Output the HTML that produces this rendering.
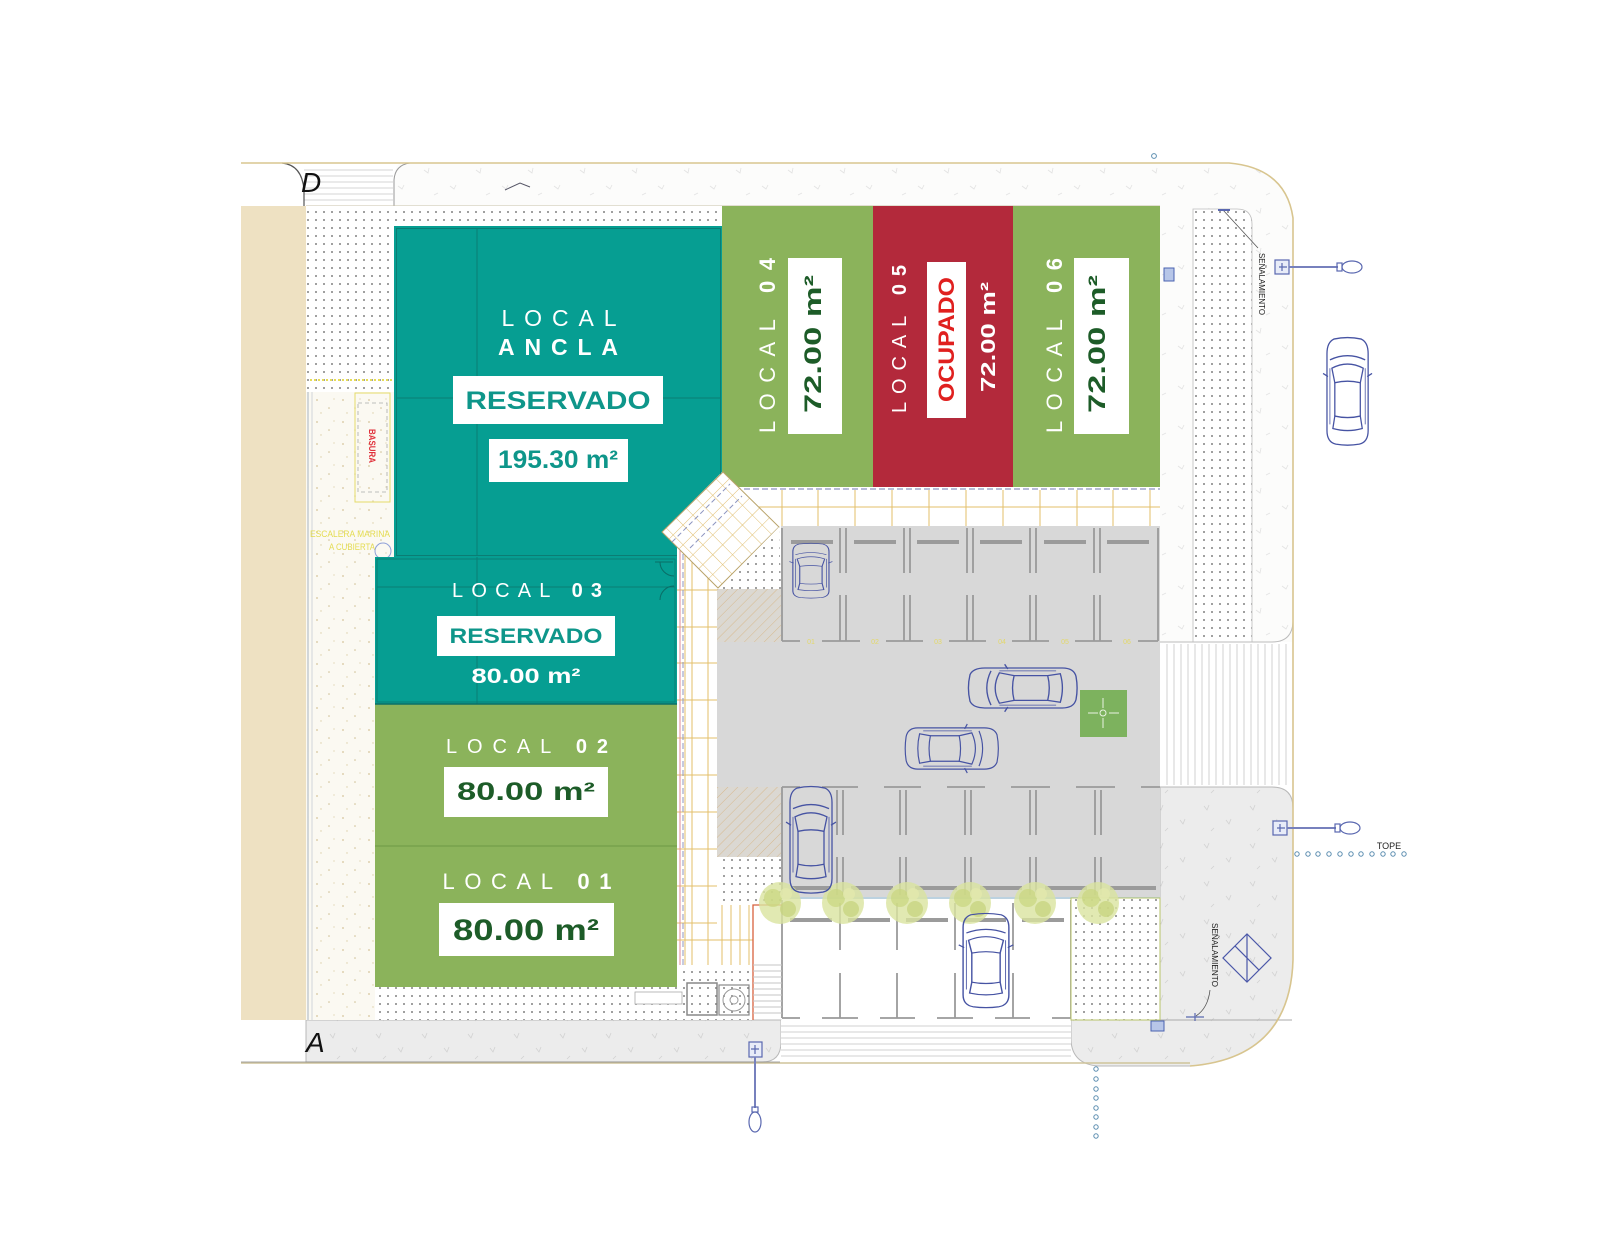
<!DOCTYPE html>
<html><head><meta charset="utf-8">
<style>html,body{margin:0;padding:0;background:#fff}svg{display:block}text{font-family:"Liberation Sans",Arial,sans-serif}</style>
</head>
<body>
<svg xmlns="http://www.w3.org/2000/svg" xmlns:xlink="http://www.w3.org/1999/xlink" width="1600" height="1250" viewBox="0 0 1600 1250">
<defs>
 <pattern id="dots" width="8" height="8" patternUnits="userSpaceOnUse"><rect width="8" height="8" fill="#fff"/><circle cx="4" cy="4" r="0.95" fill="#7a7a7a"/></pattern>
 <pattern id="speck" width="26" height="22" patternUnits="userSpaceOnUse"><rect width="26" height="22" fill="#fbf9f2"/><circle cx="5" cy="4" r="0.9" fill="#d6c59a"/><circle cx="17" cy="12" r="0.8" fill="#cfc096"/><circle cx="9" cy="17" r="0.7" fill="#dccfa8"/><circle cx="22" cy="3" r="0.6" fill="#d8c9a0"/></pattern>
 <pattern id="gspeck" width="46" height="38" patternUnits="userSpaceOnUse"><rect width="46" height="38" fill="#ececec"/><path d="M8 8l3 4 2-5M30 22l3 4 2-5M18 30l-3 3" stroke="#d2d2d2" stroke-width="0.8" fill="none"/></pattern>
 <pattern id="wspeck" width="52" height="40" patternUnits="userSpaceOnUse"><rect width="52" height="40" fill="#fcfcfb"/><path d="M8 10l4 3 1-5M34 26l4 3 2-4M22 33l-4 2" stroke="#e3e3e3" stroke-width="0.8" fill="none"/></pattern>
 <pattern id="hatch" width="7" height="7" patternUnits="userSpaceOnUse" patternTransform="rotate(45)"><rect width="7" height="7" fill="#dbd8d2"/><line x1="0" y1="0" x2="0" y2="7" stroke="#d7b98e" stroke-width="1"/></pattern>
 <pattern id="pgrid" width="14" height="14" patternUnits="userSpaceOnUse" patternTransform="rotate(45)"><rect width="14" height="14" fill="#fff"/><path d="M0 0H14M0 0V14" stroke="#e0bd6e" stroke-width="1"/></pattern>
 <g id="car" fill="none" stroke="#4653a3" stroke-width="1.3">
  <path d="M8,2 Q22,-1 36,2 Q43,5 43,16 V90 Q43,101 34,103 Q22,105 10,103 Q1,101 1,90 V16 Q1,5 8,2 Z"/>
  <path d="M6,30 Q22,22 38,30 L35,44 Q22,41 9,44 Z"/>
  <path d="M9,44 V76 M35,44 V76"/>
  <path d="M9,76 Q22,79 35,76 L37,88 Q22,92 7,88 Z"/>
  <path d="M4,22 Q22,14 40,22"/>
  <path d="M2,38 L-3,35 M42,38 L47,35"/>
  <path d="M4,30 V84 M40,30 V84" stroke-width="0.8"/>
 </g>
 <g id="tree">
  <circle r="21" fill="#d9e39f" opacity="0.8"/>
  <circle cx="-7" cy="-5" r="9" fill="#c9d67f" opacity="0.7"/>
  <circle cx="8" cy="6" r="8" fill="#c4d27a" opacity="0.7"/>
  <circle cx="6" cy="-9" r="6" fill="#e2e8ad" opacity="0.8"/>
 </g>
</defs>

<rect width="1600" height="1250" fill="#fff"/>

<!-- top sidewalk -->
<path d="M400,163 H1229 Q1286,168 1293,218 V642 H1160 V206 H394 V180 Q395,165 400,163 Z" fill="url(#wspeck)"/>
<!-- right dotted strip -->
<path d="M1193,209 H1237 Q1252,209 1252,224 V642 H1193 Z" fill="url(#dots)" stroke="#bdbdbd" stroke-width="0.8"/>
<!-- top-left crosswalk -->
<g stroke="#d4d4d4" stroke-width="1">
 <path d="M304,170H393M304,176H393M304,182H393M304,188H393M304,194H393M304,200H393"/>
</g>
<path d="M282,163 Q302,165 304,190 V206" fill="none" stroke="#555" stroke-width="1.2"/>
<path d="M394,206 V180 Q395,165 410,163" fill="none" stroke="#999" stroke-width="1"/>
<line x1="306" y1="206" x2="1160" y2="206" stroke="#c9c2a8" stroke-width="1"/>
<path d="M505,190 L520,183 L530,187" stroke="#556" stroke-width="1" fill="none"/>

<!-- right crosswalk -->
<rect x="1160" y="642" width="133" height="145" fill="#fff"/>
<g stroke="#d0d0d0" stroke-width="1">
 <path d="M1167,644V785M1174,644V785M1181,644V785M1188,644V785M1195,644V785M1202,644V785M1209,644V785M1216,644V785M1223,644V785M1230,644V785M1237,644V785M1244,644V785M1251,644V785M1258,644V785M1265,644V785M1272,644V785M1279,644V785M1286,644V785"/>
</g>
<path d="M1160,642 H1272 Q1292,642 1293,622" fill="none" stroke="#bbb" stroke-width="1"/>

<!-- bottom-right grey sidewalk -->
<path d="M1160,787 H1272 Q1293,787 1293,808 V960 Q1290,1058 1190,1066 H1098 Q1072,1064 1071,1040 V1020 H1160 Z" fill="url(#gspeck)" stroke="#b9b9b9" stroke-width="1"/>
<line x1="1072" y1="1020" x2="1292" y2="1020" stroke="#aaa" stroke-width="1"/>

<!-- bottom-left sidewalk -->
<path d="M306,1020 H781 V1042 Q781,1062 762,1062 H306 Z" fill="url(#gspeck)" stroke="#b9b9b9" stroke-width="1"/>
<!-- bottom crosswalk -->
<rect x="781" y="1020" width="290" height="42" fill="#fff"/>
<g stroke="#d2d2d2" stroke-width="1"><path d="M781,1026H1071M781,1032H1071M781,1038H1071M781,1044H1071M781,1050H1071M781,1056H1071"/></g>

<!-- boundary lines -->
<path d="M241,163 H1229 Q1286,168 1293,218 V960 Q1290,1058 1190,1066" fill="none" stroke="#d8c58f" stroke-width="1.6"/>
<line x1="241" y1="1063" x2="1190" y2="1063" stroke="#cfc39a" stroke-width="1.6"/>
<line x1="241" y1="1062" x2="780" y2="1062" stroke="#888" stroke-width="0.8"/>

<!-- beige strip -->
<rect x="241" y="206" width="65" height="814" fill="#eee1c2"/>
<!-- left light area -->
<rect x="306" y="392" width="88" height="628" fill="url(#speck)"/>
<line x1="308" y1="390" x2="308" y2="1020" stroke="#b7c0c9" stroke-width="1.2"/>
<line x1="312" y1="390" x2="312" y2="1020" stroke="#c6ccd2" stroke-width="0.8"/>
<!-- dotted areas -->
<rect x="306" y="206" width="88" height="186" fill="url(#dots)"/>
<rect x="394" y="206" width="328" height="20" fill="url(#dots)"/>
<rect x="375" y="987" width="302" height="33" fill="url(#dots)"/>
<line x1="310" y1="380" x2="392" y2="380" stroke="#e6dc58" stroke-width="2" stroke-dasharray="2 2"/>
<!-- basura -->
<rect x="355" y="393" width="35" height="109" fill="none" stroke="#e4dc6a" stroke-width="1"/>
<rect x="358" y="403" width="29" height="89" fill="none" stroke="#aaa" stroke-width="0.8" stroke-dasharray="4 3"/>
<text transform="translate(369,446) rotate(90)" text-anchor="middle" font-size="9" font-weight="bold" fill="#e0303a" textLength="34" lengthAdjust="spacingAndGlyphs">BASURA</text>
<text x="350" y="537" text-anchor="middle" font-size="9" fill="#e4dc50" textLength="80" lengthAdjust="spacingAndGlyphs">ESCALERA MARINA</text>
<text x="352" y="550" text-anchor="middle" font-size="9" fill="#e4dc50" textLength="46" lengthAdjust="spacingAndGlyphs">A CUBIERTA</text>
<circle cx="383" cy="551" r="8" fill="none" stroke="#8fa0d8" stroke-width="1"/>

<!-- Local Ancla -->
<polygon points="394,226 722,226 722,472 662,532 677,547 677,557 394,557" fill="#069e92"/>
<rect x="396.5" y="228.5" width="324" height="327" fill="none" stroke="#0b7d74" stroke-width="1"/>
<line x1="477" y1="229" x2="477" y2="556" stroke="#0b7d74" stroke-width="1"/>
<line x1="397" y1="398" x2="720" y2="398" stroke="#0b7d74" stroke-width="1"/>

<!-- Local 03 -->
<rect x="375" y="557" width="302" height="147" fill="#069e92"/>
<rect x="377" y="559" width="298" height="143" fill="none" stroke="#0b7d74" stroke-width="1"/>
<line x1="477" y1="557" x2="477" y2="704" stroke="#0b7d74" stroke-width="1"/>
<line x1="377" y1="587" x2="675" y2="587" stroke="#0b7d74" stroke-width="1"/>
<path d="M655,562 h18 M660,562 a14,14 0 0 0 14,14 M660,600 a14,14 0 0 1 14,-14" fill="none" stroke="#0a6d66" stroke-width="1"/>

<!-- Local 02 & 01 -->
<rect x="375" y="704" width="302" height="142" fill="#8bb35b"/>
<rect x="375" y="846" width="302" height="141" fill="#8bb35b"/>
<line x1="375" y1="846" x2="677" y2="846" stroke="#6e9a45" stroke-width="1"/>
<line x1="375" y1="704" x2="677" y2="704" stroke="#0b6f68" stroke-width="1.5"/>

<!-- Locals 04 05 06 -->
<rect x="722" y="206" width="151" height="281" fill="#8bb35b"/>
<rect x="873" y="206" width="140" height="281" fill="#b3293b"/>
<rect x="1013" y="206" width="147" height="281" fill="#8bb35b"/>

<!-- horizontal walkway -->
<rect x="722" y="487" width="438" height="39" fill="#fff"/>
<g stroke="#e3bf6a" stroke-width="1">
 <path d="M782,490V526M818,490V526M855,490V526M892,490V526M929,490V526M966,490V526M1003,490V526M1040,490V526M1077,490V526M1113,490V526M1150,490V526"/>
 <path d="M735,507H1160"/>
</g>
<line x1="735" y1="489" x2="1160" y2="489" stroke="#8d95c0" stroke-width="1.2" stroke-dasharray="6 3"/>

<!-- vertical walkway -->
<rect x="677" y="540" width="40" height="425" fill="#fff"/>
<g stroke="#e3bf6a" stroke-width="1">
 <path d="M685,545V965M692,545V965M708,545V965"/>
 <path d="M677,590H717M677,627H717M677,663H717M677,700H717M677,738H717M677,775H717M677,812H717M677,849H717M677,886H717M677,923H717"/>
</g>
<line x1="680" y1="545" x2="680" y2="965" stroke="#e08a96" stroke-width="1"/>
<line x1="683" y1="545" x2="683" y2="965" stroke="#8d95c0" stroke-width="1" stroke-dasharray="6 3"/>

<!-- plaza diamond -->
<polygon points="723,472 779,527 718,588 662,532" fill="url(#pgrid)" stroke="#b9a36a" stroke-width="1"/>
<path d="M672,542 L730,484 M690,548 L742,496" stroke="#8d95c0" stroke-width="1" stroke-dasharray="5 3"/>
<polygon points="779,527 781,589 718,589" fill="url(#dots)"/>

<!-- parking grey -->
<rect x="781" y="526" width="379" height="372" fill="#d8d8d8"/>
<rect x="717" y="589" width="64" height="268" fill="#d8d8d8"/>
<rect x="717" y="589" width="64" height="53" fill="url(#hatch)"/>
<rect x="717" y="787" width="64" height="70" fill="url(#hatch)"/>
<rect x="717" y="857" width="64" height="48" fill="url(#dots)"/>

<!-- top row slots -->
<g stroke="#9a9a9a" stroke-width="1.8" fill="none">
 <path d="M782,528V641 M840,528V573M846,528V573M840,595V641M846,595V641 M904,528V573M910,528V573M904,595V641M910,595V641 M967,528V573M973,528V573M967,595V641M973,595V641 M1030,528V573M1036,528V573M1030,595V641M1036,595V641 M1094,528V573M1100,528V573M1094,595V641M1100,595V641 M1158,528V641"/>
 <path d="M782,641H800M822,641H860M886,641H923M949,641H986M1012,641H1049M1075,641H1112M1138,641H1158"/>
 <path d="M782,787H800M822,787H858M884,787H921M947,787H985M1011,787H1050M1076,787H1115M1141,787H1160"/>
 <path d="M782,787V895 M837,790V835M843,790V835M837,857V895M843,857V895 M900,790V835M906,790V835M900,857V895M906,857V895 M965,790V835M971,790V835M965,857V895M971,857V895 M1030,790V835M1036,790V835M1030,857V895M1036,857V895 M1095,790V835M1101,790V835M1095,857V895M1101,857V895"/>
</g>
<g fill="#9b9b9b">
 <rect x="791" y="540" width="42" height="4"/><rect x="854" y="540" width="42" height="4"/><rect x="917" y="540" width="42" height="4"/><rect x="980" y="540" width="42" height="4"/><rect x="1044" y="540" width="42" height="4"/><rect x="1107" y="540" width="42" height="4"/>
 <rect x="791" y="886" width="40" height="4"/><rect x="851" y="886" width="42" height="4"/><rect x="915" y="886" width="42" height="4"/><rect x="980" y="886" width="42" height="4"/><rect x="1045" y="886" width="42" height="4"/><rect x="1110" y="886" width="46" height="4"/>
</g>
<g fill="#e3d86a" font-size="7" text-anchor="middle">
 <text x="811" y="644">01</text><text x="875" y="644">02</text><text x="938" y="644">03</text><text x="1002" y="644">04</text><text x="1065" y="644">05</text><text x="1127" y="644">06</text>
</g>
<line x1="781" y1="898" x2="1160" y2="898" stroke="#bcd2e0" stroke-width="2"/>

<!-- lower white parking -->
<rect x="782" y="900" width="289" height="118" fill="#fff"/>
<g stroke="#9a9a9a" stroke-width="1.8" fill="none">
 <path d="M782,900V1018 M840,903V950M840,973V1018 M897,903V950M897,973V1018 M955,903V950M955,973V1018 M1013,903V950M1013,973V1018 M1071,900V1018"/>
 <path d="M782,1018H800M822,1018H858M880,1018H915M937,1018H973M995,1018H1030M1052,1018H1071"/>
</g>
<g fill="#9b9b9b">
 <rect x="790" y="918" width="42" height="4"/><rect x="848" y="918" width="42" height="4"/><rect x="906" y="918" width="42" height="4"/><rect x="964" y="918" width="42" height="4"/><rect x="1022" y="918" width="42" height="4"/>
</g>
<rect x="1071" y="898" width="89" height="122" fill="url(#dots)" stroke="#b9c46a" stroke-width="1"/>

<!-- left of lower parking -->
<rect x="677" y="965" width="76" height="55" fill="url(#dots)"/>
<rect x="717" y="905" width="36" height="60" fill="#fff"/>
<g stroke="#e3bf6a" stroke-width="1"><path d="M722,905V965M731,905V965M740,905V965M749,905V965M677,940H753"/></g>
<path d="M753,1020V905H782" fill="none" stroke="#d8623e" stroke-width="1.3"/>
<g stroke="#c4c4c4" stroke-width="1"><path d="M753,965H782M753,971H782M753,977H782M753,983H782M753,989H782M753,995H782M753,1001H782M753,1007H782M753,1013H782"/></g>
<rect x="687" y="983" width="30" height="32" fill="none" stroke="#888" stroke-width="1.5"/>
<rect x="719" y="985" width="30" height="30" fill="none" stroke="#888" stroke-width="1.2"/>
<circle cx="734" cy="1000" r="11" fill="none" stroke="#999" stroke-width="1"/>
<circle cx="734" cy="1000" r="4" fill="none" stroke="#999" stroke-width="1"/>
<rect x="635" y="992" width="47" height="12" fill="#fff" stroke="#aaa" stroke-width="0.8"/>

<!-- trees -->
<use xlink:href="#tree" href="#tree" transform="translate(780,903)"/>
<use xlink:href="#tree" href="#tree" transform="translate(843,903)"/>
<use xlink:href="#tree" href="#tree" transform="translate(907,903)"/>
<use xlink:href="#tree" href="#tree" transform="translate(970,903)"/>
<use xlink:href="#tree" href="#tree" transform="translate(1035,903)"/>
<use xlink:href="#tree" href="#tree" transform="translate(1098,903)"/>

<!-- green meeting point -->
<rect x="1080" y="690" width="47" height="47" fill="#7db25e"/>
<g stroke="#e9f3e1" stroke-width="1" fill="none"><path d="M1088,713H1098M1109,713H1119M1103,698V708M1103,718V728"/><circle cx="1103" cy="713" r="3"/></g>

<!-- cars -->
<use xlink:href="#car" href="#car" transform="translate(792,543) scale(0.86,0.53)"/>
<use xlink:href="#car" href="#car" transform="translate(1022.5,688) rotate(-90) scale(0.95,1.05) translate(-22,-52)"/>
<use xlink:href="#car" href="#car" transform="translate(952,748.5) rotate(90) scale(0.98,0.9) translate(-22,-52)"/>
<use xlink:href="#car" href="#car" transform="translate(789,786) scale(1,1.03)"/>
<use xlink:href="#car" href="#car" transform="translate(962,913) scale(1.09,0.91)"/>
<use xlink:href="#car" href="#car" transform="translate(1326,337) scale(0.98,1.04)"/>

<!-- lamps -->
<g stroke="#5a68b0" fill="none" stroke-width="1.2">
 <rect x="1275" y="260" width="14" height="14" fill="#e8ecf8"/>
 <path d="M1279,267h8M1282,263v8"/>
 <line x1="1289" y1="267" x2="1338" y2="267" stroke-width="2" stroke="#7781bd"/>
 <rect x="1337" y="263" width="5" height="8"/>
 <ellipse cx="1352" cy="267" rx="10" ry="6"/>
 <rect x="1273" y="821" width="14" height="14" fill="#e8ecf8"/>
 <path d="M1277,828h8M1280,824v8"/>
 <line x1="1287" y1="828" x2="1336" y2="828" stroke-width="2" stroke="#7781bd"/>
 <rect x="1335" y="824" width="5" height="8"/>
 <ellipse cx="1350" cy="828" rx="10" ry="6"/>
 <rect x="749" y="1042" width="13" height="15" fill="#e8ecf8"/>
 <path d="M755,1045v9M751,1049h8"/>
 <line x1="755" y1="1057" x2="755" y2="1108" stroke-width="2" stroke="#7781bd"/>
 <rect x="752" y="1107" width="6" height="5"/>
 <ellipse cx="755" cy="1122" rx="6" ry="10"/>
</g>
<!-- tope dots -->
<g fill="none" stroke="#5b8db0" stroke-width="1">
 <circle cx="1297" cy="854" r="2.2"/><circle cx="1308" cy="854" r="2.2"/><circle cx="1318" cy="854" r="2.2"/><circle cx="1329" cy="854" r="2.2"/><circle cx="1340" cy="854" r="2.2"/><circle cx="1351" cy="854" r="2.2"/><circle cx="1361" cy="854" r="2.2"/><circle cx="1372" cy="854" r="2.2"/><circle cx="1383" cy="854" r="2.2"/><circle cx="1393" cy="854" r="2.2"/><circle cx="1404" cy="854" r="2.2"/>
 <circle cx="1096" cy="1069" r="2.2"/><circle cx="1096" cy="1079" r="2.2"/><circle cx="1096" cy="1089" r="2.2"/><circle cx="1096" cy="1098" r="2.2"/><circle cx="1096" cy="1108" r="2.2"/><circle cx="1096" cy="1117" r="2.2"/><circle cx="1096" cy="1127" r="2.2"/><circle cx="1096" cy="1136" r="2.2"/>
 <circle cx="1154" cy="156" r="2.4"/>
</g>
<text x="1389" y="849" text-anchor="middle" font-size="9" fill="#222">TOPE</text>

<!-- signs -->
<path d="M1223,210 L1258,248" stroke="#555" stroke-width="0.8"/>
<path d="M1218,210h12" stroke="#5a68b0" stroke-width="2"/>
<text transform="translate(1259,253) rotate(90)" font-size="8" fill="#222" textLength="62" lengthAdjust="spacingAndGlyphs">SEÑALAMIENTO</text>
<text transform="translate(1212,923) rotate(90)" font-size="8" fill="#222" textLength="64" lengthAdjust="spacingAndGlyphs">SEÑALAMIENTO</text>
<path d="M1210,990 Q1208,1008 1196,1016" stroke="#555" stroke-width="0.8" fill="none"/>
<path d="M1186,1017h18M1195,1013v8" stroke="#5a68b0" stroke-width="1.2"/>
<g transform="translate(1247,958) rotate(45)" stroke="#4a57a8" stroke-width="1.2" fill="none"><rect x="-17" y="-17" width="34" height="34"/><path d="M-17,0H17M-17,-17L17,17"/></g>
<rect x="1164" y="268" width="10" height="13" fill="#b7c6e8" stroke="#4a62b0" stroke-width="1"/>
<rect x="1151" y="1021" width="13" height="10" fill="#b7c6e8" stroke="#4a62b0" stroke-width="1"/>

<!-- D and A -->
<text x="301" y="192" font-family="Liberation Serif,serif" font-style="italic" font-size="28" fill="#111">D</text>
<text x="306" y="1052" font-family="Liberation Serif,serif" font-style="italic" font-size="28" fill="#111">A</text>

<!-- ===== LABELS ===== -->
<!-- Ancla -->
<text x="559" y="326" text-anchor="middle" font-size="23" fill="#fff" textLength="115" lengthAdjust="spacing">LOCAL</text>
<text x="558" y="355" text-anchor="middle" font-size="23" font-weight="bold" fill="#fff" textLength="120" lengthAdjust="spacing">ANCLA</text>
<rect x="453" y="376" width="210" height="48" fill="#fff"/>
<text x="558" y="409" text-anchor="middle" font-size="25" font-weight="bold" fill="#0e968a" textLength="185" lengthAdjust="spacingAndGlyphs">RESERVADO</text>
<rect x="489" y="439" width="139" height="43" fill="#fff"/>
<text x="558" y="468" text-anchor="middle" font-size="25" font-weight="bold" fill="#0e968a" textLength="120" lengthAdjust="spacingAndGlyphs">195.30 m²</text>

<!-- Local 03 -->
<text x="527" y="597" text-anchor="middle" font-size="20" fill="#fff" textLength="150" lengthAdjust="spacing">LOCAL <tspan font-weight="bold">03</tspan></text>
<rect x="437" y="616" width="178" height="40" fill="#fff"/>
<text x="526" y="643" text-anchor="middle" font-size="21" font-weight="bold" fill="#0e968a" textLength="153" lengthAdjust="spacingAndGlyphs">RESERVADO</text>
<text x="526" y="683" text-anchor="middle" font-size="21" font-weight="bold" fill="#fff" textLength="109" lengthAdjust="spacingAndGlyphs">80.00 m²</text>

<!-- Local 02 -->
<text x="527" y="753" text-anchor="middle" font-size="20" fill="#fff" textLength="162" lengthAdjust="spacing">LOCAL <tspan font-weight="bold">02</tspan></text>
<rect x="444" y="767" width="164" height="50" fill="#fff"/>
<text x="526" y="800" text-anchor="middle" font-size="25" font-weight="bold" fill="#1d5c28" textLength="138" lengthAdjust="spacingAndGlyphs">80.00 m²</text>

<!-- Local 01 -->
<text x="527" y="889" text-anchor="middle" font-size="22" fill="#fff" textLength="169" lengthAdjust="spacing">LOCAL <tspan font-weight="bold">01</tspan></text>
<rect x="439" y="903" width="175" height="53" fill="#fff"/>
<text x="526" y="940" text-anchor="middle" font-size="30" font-weight="bold" fill="#1d5c28" textLength="146" lengthAdjust="spacingAndGlyphs">80.00 m²</text>

<!-- Local 04 -->
<text transform="translate(775,345.5) rotate(-90)" text-anchor="middle" font-size="22" fill="#fff" textLength="175" lengthAdjust="spacing">LOCAL <tspan font-weight="bold">04</tspan></text>
<rect x="788" y="258" width="54" height="176" fill="#fff"/>
<text transform="translate(821,344) rotate(-90)" text-anchor="middle" font-size="24" font-weight="bold" fill="#1d5c28" textLength="138" lengthAdjust="spacingAndGlyphs">72.00 m²</text>

<!-- Local 05 -->
<text transform="translate(906,339) rotate(-90)" text-anchor="middle" font-size="20" fill="#fff" textLength="148" lengthAdjust="spacing">LOCAL <tspan font-weight="bold">05</tspan></text>
<rect x="927" y="262" width="39" height="156" fill="#fff"/>
<text transform="translate(954,339.5) rotate(-90)" text-anchor="middle" font-size="22" font-weight="bold" fill="#e0201f" textLength="125" lengthAdjust="spacingAndGlyphs">OCUPADO</text>
<text transform="translate(995,337) rotate(-90)" text-anchor="middle" font-size="20" font-weight="bold" fill="#fff" textLength="110" lengthAdjust="spacingAndGlyphs">72.00 m²</text>

<!-- Local 06 -->
<text transform="translate(1062,345.5) rotate(-90)" text-anchor="middle" font-size="22" fill="#fff" textLength="175" lengthAdjust="spacing">LOCAL <tspan font-weight="bold">06</tspan></text>
<rect x="1074" y="258" width="55" height="176" fill="#fff"/>
<text transform="translate(1105,344) rotate(-90)" text-anchor="middle" font-size="24" font-weight="bold" fill="#1d5c28" textLength="138" lengthAdjust="spacingAndGlyphs">72.00 m²</text>

</svg>
</body></html>
